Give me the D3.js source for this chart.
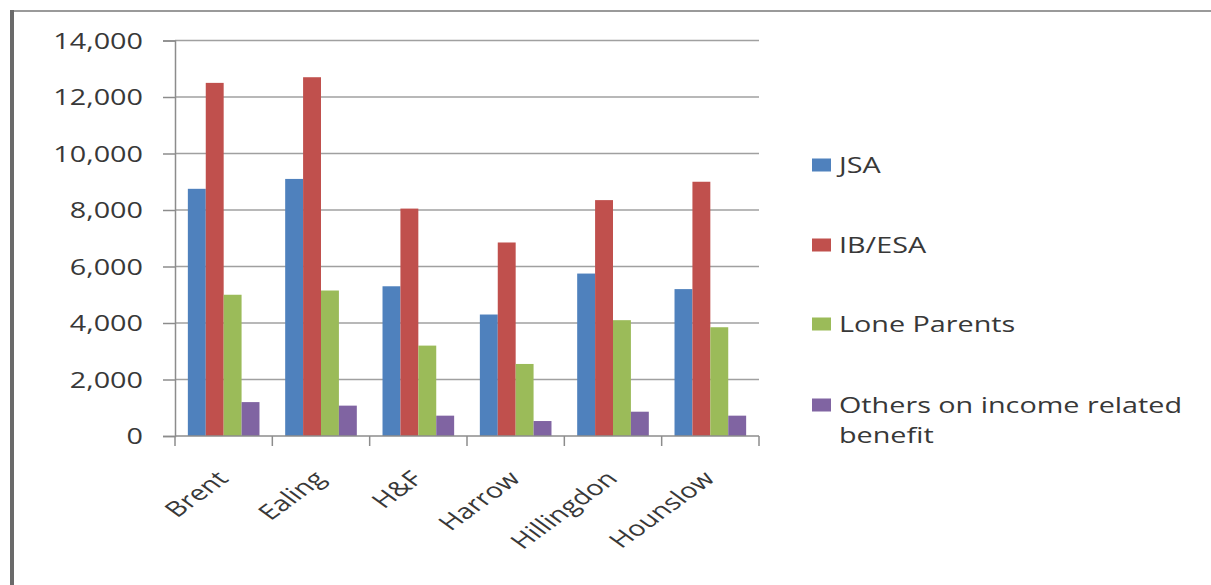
<!DOCTYPE html>
<html>
<head>
<meta charset="utf-8">
<script src="https://cdn.jsdelivr.net/npm/d3@7"></script>
<style>
  html, body { margin: 0; padding: 0; background: #fff; }
  svg { display: block; }
  text { font-family: "Open Sans", "Noto Sans", sans-serif; fill: #383838; }
</style>
</head>
<body>
<svg id="chart" width="1211" height="585"></svg>
<script>
// Boroughs on the category axis
const boroughs = ["Brent", "Ealing", "H&F", "Harrow", "Hillingdon", "Hounslow"];

// Claimant counts per benefit group, one value per borough
const seriesNames = ["JSA", "IB/ESA", "Lone Parents", "Others on income related benefit"];
const jsa         = [8750, 9100, 5300, 4300, 5750, 5200];
const ibEsa       = [12500, 12700, 8050, 6850, 8350, 9000];
const loneParents = [5000, 5150, 3200, 2550, 4100, 3850];
const others      = [1200, 1075, 720, 530, 860, 720];

// Value axis ticks
const yTicks = [0, 2000, 4000, 6000, 8000, 10000, 12000, 14000];

const seriesValues = [jsa, ibEsa, loneParents, others];
const colors = ["#4F81BD", "#C0504D", "#9BBB59", "#8064A2"];

// Text is drawn horizontally widened, as in the original chart
const SX = 1.37;
const FONT = 21;

const svg = d3.select("#chart");

// Frame edges
svg.append("rect").attr("x", 10).attr("y", 10).attr("width", 1201).attr("height", 2).attr("fill", "#9a9a9a");
svg.append("rect").attr("x", 10).attr("y", 10).attr("width", 4).attr("height", 575).attr("fill", "#6a6a6a");

const plot = { left: 175, right: 759, top: 40.5, bottom: 436 };

const x = d3.scaleBand()
  .domain(boroughs)
  .range([plot.left, plot.right])
  .paddingInner(0.264)
  .paddingOuter(0.132);

const xs = d3.scaleBand()
  .domain(d3.range(seriesNames.length))
  .range([0, x.bandwidth()]);

const y = d3.scaleLinear()
  .domain([0, 14000])
  .range([plot.bottom, plot.top]);

// Horizontal gridlines
svg.append("g")
  .selectAll("line")
  .data(yTicks.filter(d => d > 0))
  .join("line")
  .attr("x1", plot.left).attr("x2", plot.right)
  .attr("y1", d => y(d)).attr("y2", d => y(d))
  .attr("stroke", "#a0a0a0").attr("stroke-width", 1.5);

// Bars
const rows = boroughs.map((b, i) => ({ borough: b, values: seriesValues.map(s => s[i]) }));
const groups = svg.append("g")
  .selectAll("g")
  .data(rows)
  .join("g")
  .attr("transform", d => `translate(${x(d.borough)},0)`);

groups.selectAll("rect")
  .data(d => d.values.map((v, k) => ({ v, k })))
  .join("rect")
  .attr("x", d => xs(d.k))
  .attr("width", xs.bandwidth())
  .attr("y", d => y(d.v))
  .attr("height", d => y(0) - y(d.v))
  .attr("fill", d => colors[d.k]);

// Value axis
const yAxis = svg.append("g")
  .attr("transform", `translate(${plot.left},0)`)
  .call(d3.axisLeft(y).tickValues(yTicks).tickSize(12).tickFormat(d3.format(",")));
yAxis.select(".domain").attr("stroke", "#8c8c8c").attr("stroke-width", 1.5);
yAxis.selectAll(".tick line").attr("stroke", "#8c8c8c").attr("stroke-width", 1.5);
yAxis.selectAll(".tick text")
  .attr("x", 0)
  .attr("dy", "0.36em")
  .attr("transform", `translate(-32,0) scale(${SX},1)`)
  .style("font-size", FONT + "px")
  .attr("fill", "#383838")
  .attr("font-family", null);

// Category axis line and boundary ticks
const bounds = d3.range(boroughs.length + 1).map(i => x.range()[0] + i * x.step());
svg.append("line")
  .attr("x1", plot.left).attr("x2", plot.right)
  .attr("y1", y(0)).attr("y2", y(0))
  .attr("stroke", "#8c8c8c").attr("stroke-width", 1.5);
svg.append("g")
  .selectAll("line")
  .data(bounds)
  .join("line")
  .attr("x1", d => d).attr("x2", d => d)
  .attr("y1", y(0)).attr("y2", y(0) + 10)
  .attr("stroke", "#8c8c8c").attr("stroke-width", 1.5);

// Rotated category labels
svg.append("g")
  .selectAll("text")
  .data(boroughs)
  .join("text")
  .attr("text-anchor", "end")
  .attr("transform", d => `translate(${x(d) + x.bandwidth() / 2 + 6},${y(0) + 44}) scale(${SX},1) rotate(-45)`)
  .style("font-size", FONT + "px")
  .text(d => d);

// Legend
const legendY = [165, 245, 324, 405];
const legend = svg.append("g")
  .selectAll("g")
  .data(seriesNames)
  .join("g")
  .attr("transform", (d, i) => `translate(812,${legendY[i]})`);

legend.append("rect")
  .attr("x", 0).attr("y", -6.5)
  .attr("width", 19).attr("height", 13)
  .attr("fill", (d, i) => colors[i]);

legend.append("text")
  .attr("transform", `translate(27,0) scale(${SX},1)`)
  .style("font-size", FONT + "px")
  .each(function (d) {
    const t = d3.select(this);
    const lines = d === "Others on income related benefit"
      ? ["Others on income related", "benefit"] : [d];
    lines.forEach((ln, j) => {
      t.append("tspan").attr("x", 0).attr("dy", j === 0 ? "0.36em" : "1.45em").text(ln);
    });
  });
</script>
</body>
</html>
